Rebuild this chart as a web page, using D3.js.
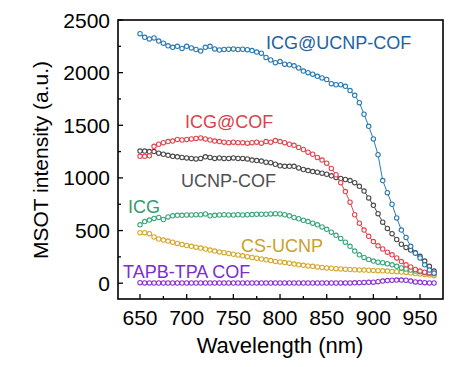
<!DOCTYPE html>
<html><head><meta charset="utf-8">
<script src="https://cdn.jsdelivr.net/npm/d3@7"></script>
<style>body{margin:0;background:#fff}svg{display:block}</style>
</head><body><svg id="c" width="462" height="367"></svg>
<script>
const wavelength = d3.range(650, 966, 5);
const icgUcnpCof = [2370,2335,2320,2330,2300,2280,2255,2240,2250,2230,2250,2235,2220,2205,2240,2250,2225,2215,2220,2222,2225,2220,2222,2218,2210,2195,2185,2145,2120,2095,2105,2080,2075,2065,2045,2015,2000,1985,1965,1950,1935,1895,1885,1885,1870,1830,1785,1715,1605,1490,1370,1220,975,860,750,620,505,435,350,285,240,175,125,95];
const icgCof = [1205,1205,1210,1300,1320,1335,1345,1350,1365,1360,1365,1370,1375,1380,1370,1360,1350,1345,1340,1335,1340,1335,1335,1330,1335,1340,1330,1345,1340,1355,1345,1335,1320,1310,1290,1270,1245,1225,1195,1170,1140,1090,1030,955,870,770,650,570,505,445,395,355,325,295,270,240,205,175,155,130,115,105,100,95];
const ucnpCof = [1255,1255,1250,1250,1235,1225,1215,1205,1200,1195,1190,1185,1180,1185,1200,1195,1185,1190,1185,1185,1190,1185,1185,1180,1170,1165,1160,1150,1145,1130,1115,1110,1110,1110,1095,1080,1070,1060,1055,1045,1035,1020,1005,995,985,975,955,920,875,810,740,660,580,520,470,415,370,340,315,290,255,210,160,115];
const icg = [555,585,600,615,625,605,630,640,645,645,648,648,650,650,658,640,645,648,650,648,648,650,648,650,652,655,655,655,658,660,658,650,640,625,612,598,585,570,555,535,512,485,455,425,390,350,305,270,245,225,210,200,195,185,175,160,145,135,125,115,110,100,95,90];
const csUcnp = [480,480,470,440,420,410,400,390,378,368,358,350,342,334,325,315,305,297,290,282,275,268,260,252,245,238,230,222,215,207,202,196,190,182,175,170,164,160,155,150,145,142,138,135,133,130,128,126,125,123,121,119,118,115,112,110,106,102,97,92,87,82,78,72];
const tapbTpaCof = [5,3,3,2,2,2,2,2,2,2,2,2,2,2,2,2,2,2,2,2,2,2,2,2,2,2,2,2,2,2,2,2,2,2,2,2,2,2,2,2,2,2,2,3,3,3,4,5,7,8,10,15,20,25,28,30,30,28,20,12,8,5,3,2];
const seriesNames = ["TAPB-TPA COF","CS-UCNP","ICG","UCNP-COF","ICG@COF","ICG@UCNP-COF"];
const seriesValues = [tapbTpaCof, csUcnp, icg, ucnpCof, icgCof, icgUcnpCof];
const seriesColors = ["#8a33d9","#d6a92c","#3aa87c","#4a4a4a","#e0484f","#2a7ab5"];
const labelColors = ["#7a2ed0","#c9a02c","#2f9c6e","#505050","#d9434a","#1c63a3"];
const xTicks = [650,700,750,800,850,900,950];
const yTicks = [0,500,1000,1500,2000,2500];

const svg = d3.select("#c");
const L=118, R=443, T=20, B=299;
const x = d3.scaleLinear().domain([626.4,974.6]).range([L,R]);
const y = d3.scaleLinear().domain([-150,2500]).range([B,T]);
const font = "'Liberation Sans', Arial, sans-serif";

// series
const line = d3.line().x((d,i)=>x(wavelength[i])).y(d=>y(d));
seriesValues.forEach((vals,k)=>{
  const g = svg.append("g");
  g.append("path").attr("d", line(vals)).attr("fill","none")
    .attr("stroke", seriesColors[k]).attr("stroke-width",1);
  g.selectAll("circle").data(vals).join("circle")
    .attr("cx",(d,i)=>x(wavelength[i])).attr("cy",d=>y(d)).attr("r",2.2)
    .attr("fill","#fff").attr("stroke",seriesColors[k]).attr("stroke-width",1.1);
});

// frame
svg.append("rect").attr("x",L).attr("y",T).attr("width",R-L).attr("height",B-T)
  .attr("fill","none").attr("stroke","#000").attr("stroke-width",1.6);

// x axis ticks (inside)
const xMinor = d3.range(650, 951, 25);
svg.selectAll(".xt").data(xMinor).join("line")
  .attr("x1",d=>x(d)).attr("x2",d=>x(d)).attr("y1",B).attr("y2",d=>B-(d%50===0?5:3))
  .attr("stroke","#000").attr("stroke-width",1.3);
svg.selectAll(".xl").data(xTicks).join("text")
  .attr("x",d=>x(d)).attr("y",325).attr("text-anchor","middle")
  .attr("font-family",font).attr("font-size",21).attr("fill","#000").text(d=>d);

// y axis ticks
const yMinor = d3.range(0, 2501, 250);
svg.selectAll(".yt").data(yMinor).join("line")
  .attr("x1",L).attr("x2",d=>L+(d%500===0?5:3)).attr("y1",d=>y(d)).attr("y2",d=>y(d))
  .attr("stroke","#000").attr("stroke-width",1.3);
svg.selectAll(".yl").data(yTicks).join("text")
  .attr("x",110).attr("y",d=>y(d)+7.5).attr("text-anchor","end")
  .attr("font-family",font).attr("font-size",21).attr("fill","#000").text(d=>d);

// axis titles
svg.append("text").attr("x",280).attr("y",353).attr("text-anchor","middle")
  .attr("font-family",font).attr("font-size",22).attr("fill","#000").text("Wavelength (nm)");
svg.append("text").attr("transform","translate(48,160) rotate(-90)").attr("text-anchor","middle")
  .attr("font-family",font).attr("font-size",21).attr("fill","#000").text("MSOT intensity (a.u.)");

// series labels
const labelPos = [[123,278],[241,252],[128,213],[181,187],[185,128],[266,49]];
seriesNames.forEach((n,k)=>{
  svg.append("text").attr("x",labelPos[k][0]).attr("y",labelPos[k][1])
    .attr("font-family",font).attr("font-size",18).attr("fill",labelColors[k]).text(n);
});
</script></body></html>
